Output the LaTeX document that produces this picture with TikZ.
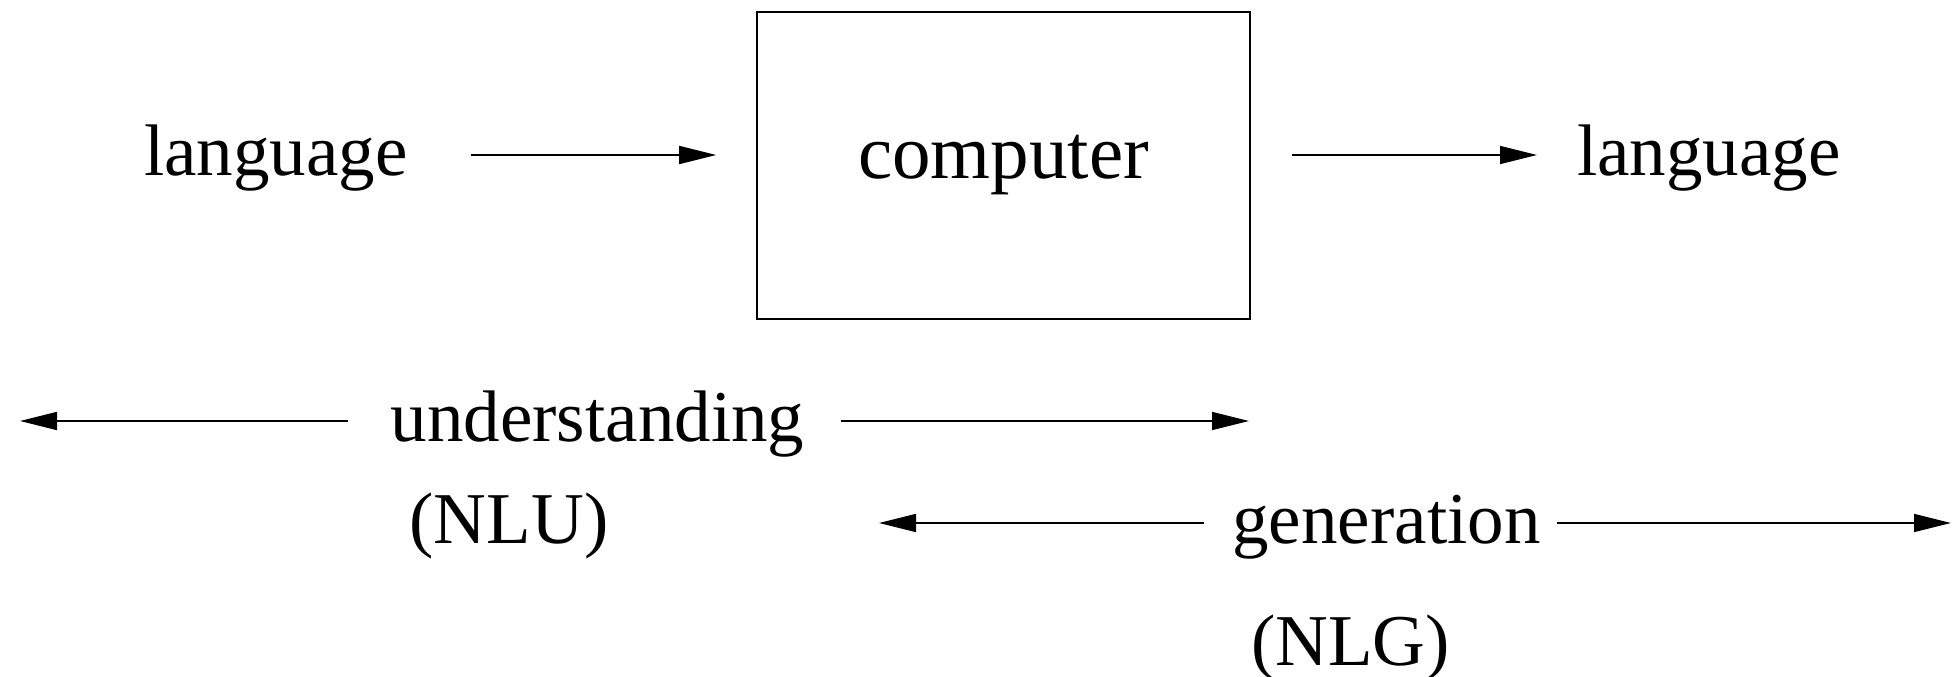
\documentclass[tikz,border=0pt]{standalone}
\usepackage{fontspec}
\setmainfont{Liberation Serif}
\usetikzlibrary{arrows.meta}

\tikzset{
  word/.style={inner sep=0pt, text height=52pt, text depth=12pt,
    font=\fontsize{73}{80}\selectfont},
  flow/.style={-{Triangle[length=37pt,width=18pt]}, line width=1.6pt},
}

\begin{document}
\begin{tikzpicture}[x=1pt,y=-1pt]
\useasboundingbox (0,0) rectangle (1952,677);

\node[word] (langin) at (276,155) {language};
\node[draw, line width=1.6pt, minimum width=493pt, minimum height=307pt,
  inner sep=0pt, font=\fontsize{77}{84}\selectfont] (comp) at (1003.5,165.5) {computer};
\node[word] (langout) at (1709,155) {language};
\draw[flow, shorten <=63pt, shorten >=40pt] (langin) -- (langin -| comp.west);
\draw[flow, shorten <=41pt, shorten >=40pt] (comp.east |- langout) -- (langout);

% understanding
\node[word] (nlu) at (597.5,421) {understanding};
\node[word] (nluabbr) at (509,523) {(NLU)};
\coordinate (nluleft) at (20,421); \coordinate (nluright) at (1249,421);
\draw[flow, shorten <=43pt] (nlu) -- (nluleft);
\draw[flow, shorten <=36pt] (nlu) -- (nluright);

% generation
\node[word] (nlg) at (1386.5,523) {generation};
\node[word] (nlgabbr) at (1350.5,645) {(NLG)};
\coordinate (nlgleft) at (879,523); \coordinate (nlgright) at (1951,523);
\draw[flow, shorten <=28pt] (nlg) -- (nlgleft);
\draw[flow, shorten <=16pt] (nlg) -- (nlgright);

\end{tikzpicture}
\end{document}
